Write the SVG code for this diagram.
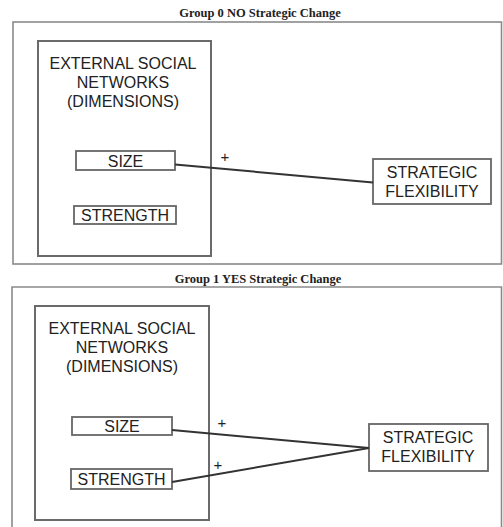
<svg xmlns="http://www.w3.org/2000/svg" width="503" height="527" viewBox="0 0 503 527">
<style>
.title{font-family:"Liberation Serif",serif;font-weight:bold;font-size:12.5px;fill:#222;text-anchor:middle}
.frame{fill:none;stroke:#8a8a8a;stroke-width:1.6}
.inner{fill:none;stroke:#6a6a6a;stroke-width:2}
.box{fill:#fff;stroke:#666;stroke-width:1.8}
.lbl{font-family:"Liberation Sans",Arial,sans-serif;font-size:16px;fill:#222;text-anchor:middle}
.edge{fill:none;stroke:#333;stroke-width:2}
.plus{font-family:"Liberation Sans",Arial,sans-serif;font-size:15px;fill:#222;text-anchor:middle}
</style>
<rect width="503" height="527" fill="#fff"/>
<text class="title" x="260" y="17">Group 0 NO Strategic Change</text>
<rect class="frame" x="13" y="22" width="488.5" height="242"/>
<text class="title" x="258" y="283">Group 1 YES Strategic Change</text>
<path class="frame" d="M12 528 V287 H501.5 V528"/>

<g id="panel0-network">
<rect class="inner" x="38" y="41" width="173" height="215"/>
<text class="lbl" x="123" y="68.5">EXTERNAL SOCIAL</text>
<text class="lbl" x="123" y="87.5">NETWORKS</text>
<text class="lbl" x="123" y="106.5">(DIMENSIONS)</text>
</g>
<g id="panel0-size"><rect class="box" x="76" y="151" width="99" height="19"/><text class="lbl" x="125.5" y="166.5">SIZE</text></g>
<g id="panel0-strength"><rect class="box" x="74" y="206" width="102" height="18"/><text class="lbl" x="125" y="221">STRENGTH</text></g>
<g id="panel0-flex"><rect class="box" x="373" y="159" width="118" height="45"/><text class="lbl" x="432" y="178">STRATEGIC</text><text class="lbl" x="432" y="197">FLEXIBILITY</text></g>

<g id="panel1-network">
<rect class="inner" x="35" y="306" width="174" height="214"/>
<text class="lbl" x="122" y="333.5">EXTERNAL SOCIAL</text>
<text class="lbl" x="122" y="353">NETWORKS</text>
<text class="lbl" x="122" y="372">(DIMENSIONS)</text>
</g>
<g id="panel1-size"><rect class="box" x="72" y="417" width="100" height="18"/><text class="lbl" x="122" y="432">SIZE</text></g>
<g id="panel1-strength"><rect class="box" x="71" y="469" width="101" height="20"/><text class="lbl" x="121.5" y="485">STRENGTH</text></g>
<g id="panel1-flex"><rect class="box" x="369" y="424" width="119" height="47"/><text class="lbl" x="428" y="443">STRATEGIC</text><text class="lbl" x="428" y="462">FLEXIBILITY</text></g>

<g id="connectors">
<line class="edge" x1="175" y1="164.5" x2="373" y2="182.5"/>
<line class="edge" x1="172" y1="430" x2="369" y2="448"/>
<line class="edge" x1="172" y1="482" x2="369" y2="448"/>
<text class="plus" x="225" y="162">+</text>
<text class="plus" x="222" y="428">+</text>
<text class="plus" x="218" y="470">+</text>
</g>
</svg>
